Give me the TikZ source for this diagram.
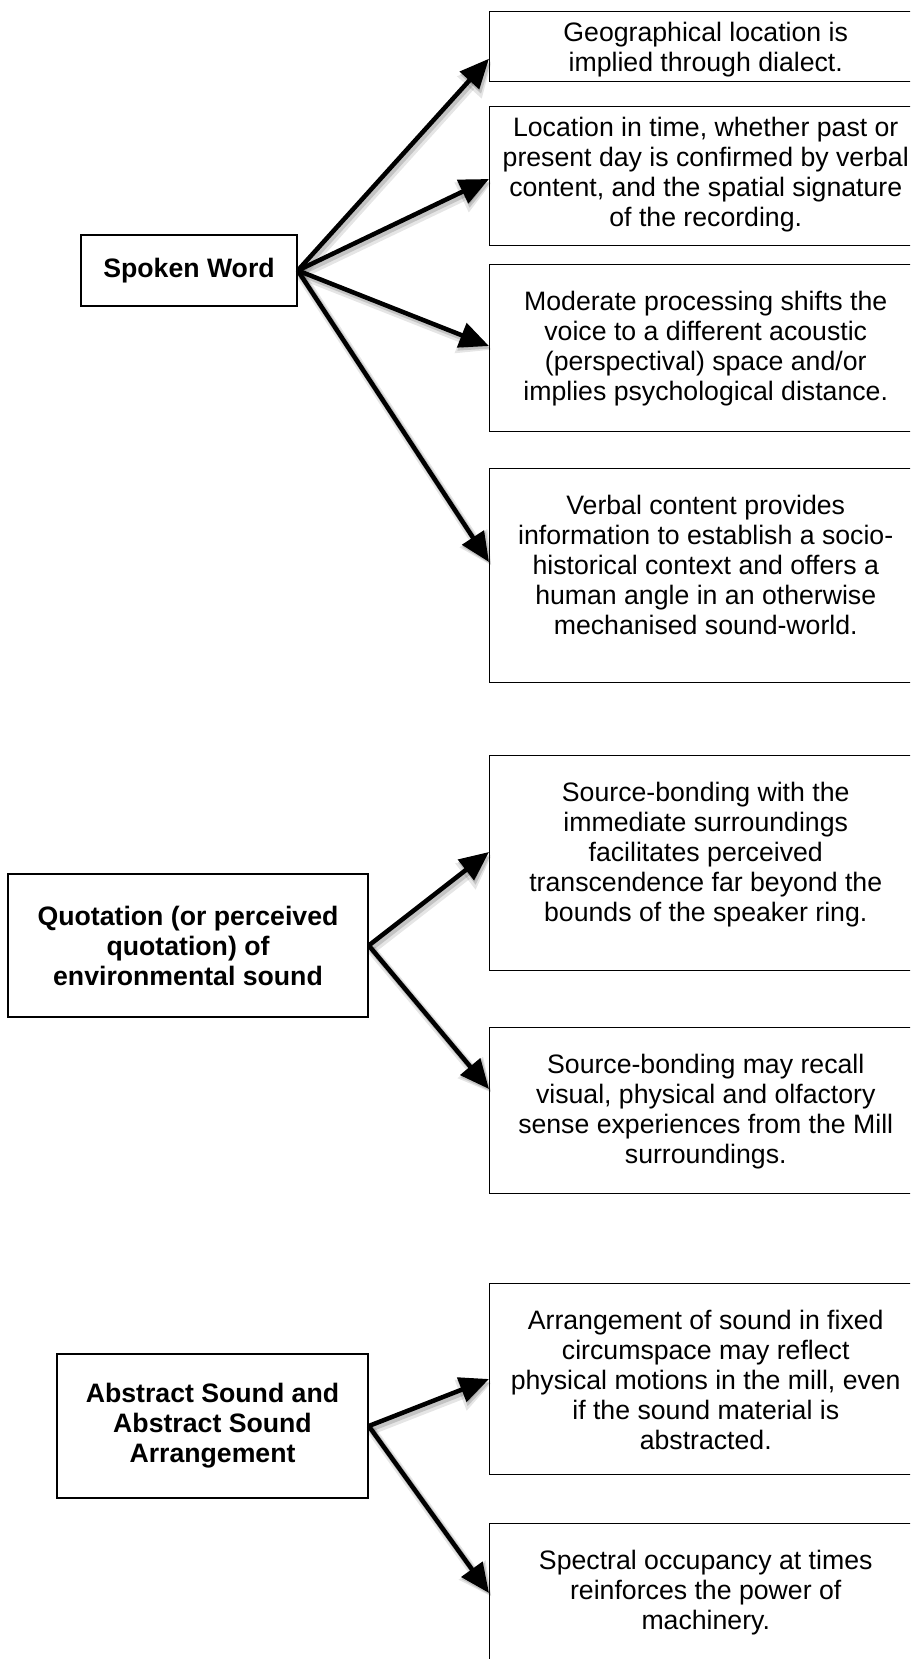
\documentclass[tikz,border=0pt]{standalone}
\usepackage{fontspec}
\setmainfont{Liberation Sans}
\usetikzlibrary{arrows.meta,calc}

% fixed-size note body: height, gap above first line, text
\newcommand\noteblock[3]{%
  \begin{minipage}[t][#1][t]{324pt}\centering\vspace*{#2}\strut #3\end{minipage}}

\begin{document}
\begin{tikzpicture}[x=0.75pt,y=-0.75pt,
  txt/.style={font=\fontsize{20pt}{22.5pt}\selectfont},
  note/.style={txt, draw, line width=1.1pt, inner sep=0pt, anchor=north west},
  topic/.style={txt, draw, line width=1.1pt, inner sep=0pt, align=center,
    font=\fontsize{20pt}{22.5pt}\selectfont\bfseries},
  arr/.style={line width=3.4pt, -{Triangle[length=22pt,width=19pt]},
    preaction={draw=black, opacity=0.10, line width=7pt,
      -{Triangle[length=25pt,width=23pt]},
      transform canvas={shift={(2pt,-3pt)}}},
    preaction={draw=black, opacity=0.15, line width=4.5pt,
      -{Triangle[length=23pt,width=20pt]},
      transform canvas={shift={(1.5pt,-2pt)}}}}]

\useasboundingbox (0,0) rectangle (910,1659);
\clip (0,0) rectangle (910,1659);

% topics on the left
\node[topic, minimum width=162pt, minimum height=53.25pt] (spoken) at (189,270.5)
  {Spoken Word};
\node[topic, minimum width=270pt, minimum height=107.25pt] (quote) at (188,945.5)
  {Quotation (or perceived\\ quotation) of\\ environmental sound};
\node[topic, minimum width=233.25pt, minimum height=108pt] (abstract) at (212.5,1426)
  {Abstract Sound and\\ Abstract Sound\\ Arrangement};

% notes on the right
\node[note] (n1) at (489,10.7) {\noteblock{52.7pt}{6.75pt}{%
  Geographical location is\\ implied through dialect.}};
\node[note] (n2) at (489,106) {\noteblock{104.25pt}{6.75pt}{%
  Location in time, whether past or\\ present day is confirmed by verbal\\
  content, and the spatial signature\\ of the recording.}};
\node[note] (n3) at (489,264) {\noteblock{125.25pt}{18.5pt}{%
  Moderate processing shifts the\\ voice to a different acoustic\\
  (perspectival) space and/or\\ implies psychological distance.}};
\node[note] (n4) at (489,468) {\noteblock{160.5pt}{18.5pt}{%
  Verbal content provides\\ information to establish a socio-\\
  historical context and offers a\\ human angle in an otherwise\\
  mechanised sound-world.}};
\node[note] (n5) at (489,755) {\noteblock{161.25pt}{18.5pt}{%
  Source-bonding with the\\ immediate surroundings\\ facilitates perceived\\
  transcendence far beyond the\\ bounds of the speaker ring.}};
\node[note] (n6) at (489,1027) {\noteblock{124.5pt}{18.5pt}{%
  Source-bonding may recall\\ visual, physical and olfactory\\
  sense experiences from the Mill\\ surroundings.}};
\node[note] (n7) at (489,1283) {\noteblock{143.25pt}{18.5pt}{%
  Arrangement of sound in fixed\\ circumspace may reflect\\
  physical motions in the mill, even\\ if the sound material is\\ abstracted.}};
\node[note] (n8) at (489,1523) {\noteblock{150pt}{18.5pt}{%
  Spectral occupancy at times\\ reinforces the power of\\ machinery.}};

% connectors
\draw[arr] (spoken.east) -- ($(n1.north west)+(0,48)$);
\draw[arr] (spoken.east) -- ($(n2.north west)+(0,73)$);
\draw[arr] (spoken.east) -- ($(n3.north west)+(0,82)$);
\draw[arr] (spoken.east) -- ($(n4.north west)+(0,94)$);
\draw[arr] (quote.east) -- ($(n5.north west)+(0,97)$);
\draw[arr] (quote.east) -- ($(n6.north west)+(0,62)$);
\draw[arr] (abstract.east) -- ($(n7.north west)+(0,96)$);
\draw[arr] (abstract.east) -- ($(n8.north west)+(0,70)$);
\end{tikzpicture}
\end{document}
